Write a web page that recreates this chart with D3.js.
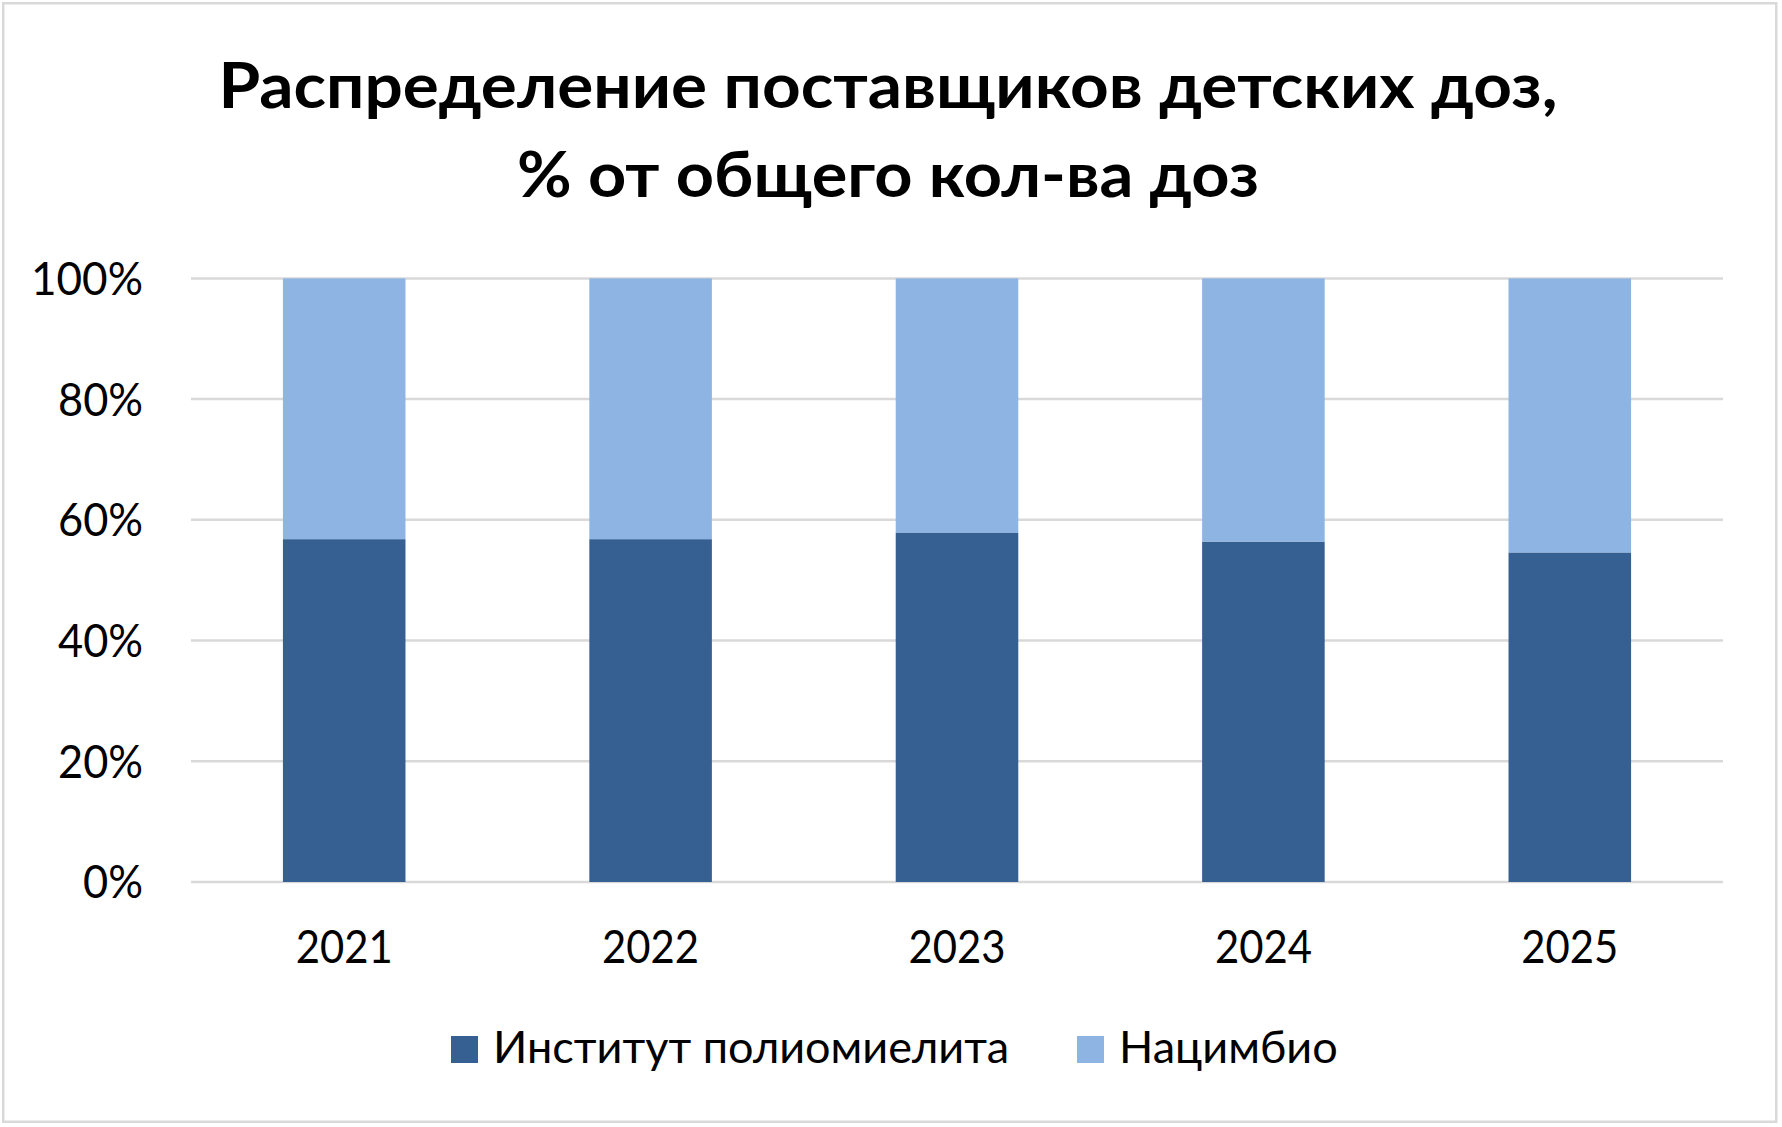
<!DOCTYPE html>
<html>
<head>
<meta charset="utf-8">
<script src="https://cdn.jsdelivr.net/npm/d3@7"></script>
<style>
  html, body { margin: 0; padding: 0; background: #ffffff; }
  svg { display: block; }
  text { font-family: Lato, "Open Sans", "Noto Sans", sans-serif; fill: #000; }
</style>
</head>
<body>
<svg id="chart" width="1782" height="1127"></svg>
<script>
// ---- Data ----
const years = ["2021", "2022", "2023", "2024", "2025"];
const seriesNames = ["Институт полиомиелита", "Нацимбио"];
const institute = [56.8, 56.8, 57.9, 56.4, 54.6];
const nacimbio = [43.2, 43.2, 42.1, 43.6, 45.4];
const yTicks = [0, 20, 40, 60, 80, 100];
const titleLines = ["Распределение поставщиков детских доз,", "% от общего кол-ва доз"];
const colors = ["#376092", "#8eb4e3"];

// ---- Layout ----
const W = 1782, H = 1127;
const plot = { left: 191, right: 1723, top: 278.4, bottom: 882 };
const svg = d3.select("#chart");

// fit helper: compress/stretch text to target width
function fit(sel, target) {
  sel.each(function () {
    const w = this.getComputedTextLength();
    if (Math.abs(w - target) / target > 0.015) {
      d3.select(this).attr("textLength", target).attr("lengthAdjust", "spacingAndGlyphs");
    }
  });
}

// outer border
svg.append("rect")
  .attr("x", 3.25).attr("y", 3.25)
  .attr("width", W - 9).attr("height", H - 8.5)
  .attr("fill", "#fff").attr("stroke", "#d9d9d9").attr("stroke-width", 2.5);

// title
const titleSize = 63;
const titleWidths = [1339, 742];
const titleBaselines = [108, 197];
titleLines.forEach((t, i) => {
  const tx = svg.append("text")
    .attr("x", 888).attr("y", titleBaselines[i])
    .attr("text-anchor", "middle")
    .attr("font-size", titleSize).attr("font-weight", 700)
    .text(t);
  fit(tx, titleWidths[i]);
});

// scales
const x = d3.scaleBand().domain(years).range([plot.left, plot.right])
  .paddingInner(0.6).paddingOuter(0.3);
const y = d3.scaleLinear().domain([0, 100]).range([plot.bottom, plot.top]);

// gridlines
svg.append("g").selectAll("line").data(yTicks).join("line")
  .attr("x1", plot.left).attr("x2", plot.right)
  .attr("y1", d => y(d)).attr("y2", d => y(d))
  .attr("stroke", "#d9d9d9").attr("stroke-width", 2.5);

// y tick labels
const tickSize = 46;
const yLab = svg.append("g").selectAll("text").data(yTicks).join("text")
  .attr("x", 143).attr("y", d => y(d) + tickSize * 0.358)
  .attr("text-anchor", "end")
  .attr("font-size", tickSize)
  .text(d => d + "%");
yLab.each(function (d) {
  const target = d === 100 ? 112 : (d === 0 ? 60 : 85);
  fit(d3.select(this), target);
});

// stacked bars
const rows = years.map((yr, i) => ({ year: yr, a: institute[i], b: nacimbio[i] }));
const stack = d3.stack().keys(["a", "b"])(rows);
svg.append("g").selectAll("g").data(stack).join("g")
  .attr("fill", (d, i) => colors[i])
  .selectAll("rect").data(d => d).join("rect")
  .attr("x", d => x(d.data.year))
  .attr("width", x.bandwidth())
  .attr("y", d => y(d[1]))
  .attr("height", d => y(d[0]) - y(d[1]));

// x labels
const xLab = svg.append("g").selectAll("text").data(years).join("text")
  .attr("x", d => x(d) + x.bandwidth() / 2)
  .attr("y", 963)
  .attr("text-anchor", "middle")
  .attr("font-size", tickSize)
  .text(d => d);
fit(xLab, 97);

// legend
const legX = [451, 1077];
const legTextW = [511, 221];
const leg = svg.append("g");
seriesNames.forEach((name, i) => {
  leg.append("rect")
    .attr("x", legX[i]).attr("y", 1036)
    .attr("width", 27).attr("height", 27)
    .attr("fill", colors[i]);
  const t = leg.append("text")
    .attr("x", legX[i] + 42).attr("y", 1063)
    .attr("font-size", 45)
    .text(name);
  fit(t, legTextW[i]);
});
</script>
</body>
</html>
